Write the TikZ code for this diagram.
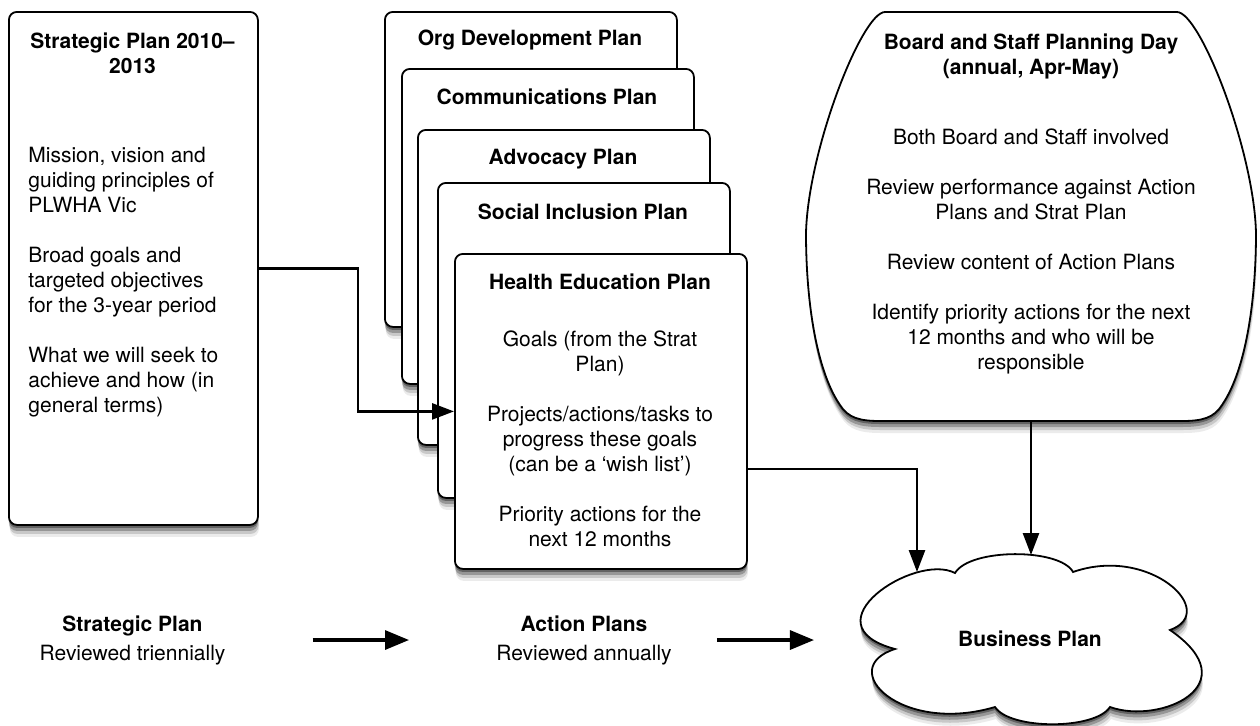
\documentclass[tikz,border=0pt]{standalone}
\usepackage{fontspec}
\setmainfont{TeX Gyre Heros}
\usetikzlibrary{positioning,arrows.meta}
\tikzset{
  softshadow/.style={preaction={fill=black,opacity=.35,transform canvas={yshift=-1.5pt}},
                     preaction={fill=black,opacity=.25,transform canvas={yshift=-3pt}},
                     preaction={fill=black,opacity=.15,transform canvas={xshift=.3pt,yshift=-4.5pt}},
                     preaction={fill=black,opacity=.08,transform canvas={xshift=.5pt,yshift=-6pt}}},
  plan/.style={draw=black,line width=.9pt,fill=white,rounded corners=4pt,
               anchor=north west,inner sep=0pt,softshadow},
  outline/.style={draw=black,line width=.9pt,fill=white,softshadow},
  head/.style={font=\bfseries,align=center,inner sep=0pt},
  body/.style={align=center,inner sep=0pt},
  link/.style={line width=1.3pt,-{Triangle[length=11pt,width=8pt]}},
  flow/.style={line width=1.6pt,-{Triangle[length=12pt,width=9.5pt]}}
}
\begin{document}
\fontsize{10.5pt}{12.5pt}\selectfont
\begin{tikzpicture}[x=0.5pt,y=-0.5pt]
  %%%%% START %%%%%
  \useasboundingbox (0,0) rectangle (1260,725);

  % strategic plan
  \node[plan,minimum width=124.5pt,minimum height=256.5pt] (strat) at (8,11) {};
  \node[head,anchor=north] (stratt) at (132.5,32) {Strategic Plan 2010–\\2013};
  \node[align=left,inner sep=0pt,anchor=north west] (stratb) at (28,147)
    {Mission, vision and\\guiding principles of\\PLWHA Vic\\[12.5pt]
     Broad goals and\\targeted objectives\\for the 3-year period\\[12.5pt]
     What we will seek to\\achieve and how (in\\general terms)};

  % action plans
  \node[plan,minimum width=146pt,minimum height=157.5pt] (org) at (384,11) {};
  \node[head] (orgt) at (530,40) {Org Development Plan};
  \node[plan,minimum width=146pt,minimum height=157.5pt] (comm) at (401,68) {};
  \node[head] (commt) at (547,97) {Communications Plan};
  \node[plan,minimum width=146pt,minimum height=157.5pt] (adv) at (417,129) {};
  \node[head] (advt) at (563,159) {Advocacy Plan};
  \node[plan,minimum width=146pt,minimum height=157.5pt] (soc) at (437,182) {};
  \node[head] (soct) at (583,212) {Social Inclusion Plan};
  \node[plan,minimum width=146pt,minimum height=157.5pt] (health) at (454,253) {};
  \node[head] (healtht) at (600,282) {Health Education Plan};
  \node[body,anchor=north] (healthb) at (600,330)
    {Goals (from the Strat\\Plan)\\[12.5pt]
     Projects/actions/tasks to\\progress these goals\\(can be a ‘wish list’)\\[12.5pt]
     Priority actions for the\\next 12 months};

  % planning day
  \draw[outline] (885,12) -- (1177,12)
    .. controls (1200,12) and (1254,150) .. (1256,233)
    .. controls (1256,300) and (1246,370) .. (1222,405)
    .. controls (1214,418) and (1202,421) .. (1182,421) -- (880,421)
    .. controls (860,421) and (848,418) .. (840,405)
    .. controls (816,370) and (806,300) .. (806,233)
    .. controls (808,150) and (862,12) .. (885,12) -- cycle;
  \coordinate (boardbot) at (1031,421);
  \node[head,anchor=north] (boardt) at (1031,33) {Board and Staff Planning Day\\(annual, Apr-May)};
  \node[body,anchor=north] (boardb) at (1031,128)
    {Both Board and Staff involved\\[12.5pt]
     Review performance against Action\\Plans and Strat Plan\\[12.5pt]
     Review content of Action Plans\\[12.5pt]
     Identify priority actions for the next\\12 months and who will be\\responsible};

  % business plan
  \draw[outline] (955,573) .. controls (915,552) and (805,625) .. (895,649)
    .. controls (835,668) and (900,735) .. (995,707)
    .. controls (1010,730) and (1095,730) .. (1110,707)
    .. controls (1160,725) and (1250,685) .. (1170,630)
    .. controls (1220,612) and (1150,545) .. (1073,572)
    .. controls (1060,548) and (970,548) .. (955,573) -- cycle;
  \coordinate (cloudleft) at (917,572);
  \coordinate (cloudtop) at (1031,555);
  \node[head] (biz) at (1030,639) {Business Plan};

  % connectors
  \draw[link] (strat.east) -- ++(99,0) |- (health.west);
  \draw[link] ([yshift=-28.75pt]health.east) -| (cloudleft);
  \draw[link] (boardbot) -- (cloudtop);

  % review cycle
  \node[body,anchor=north] (stratl) at (132.5,615) {\textbf{Strategic Plan}\\[2pt]Reviewed triennially};
  \node[body,anchor=north] (actl) at (584,615) {\textbf{Action Plans}\\[2pt]Reviewed annually};
  \draw[flow] ([xshift=43.5pt]stratl.east) -- ([xshift=-43.5pt]actl.west);
  \draw[flow] ([xshift=22.5pt]actl.east) -- ++(97,0);
  %%%%% END %%%%%
\end{tikzpicture}
\end{document}
